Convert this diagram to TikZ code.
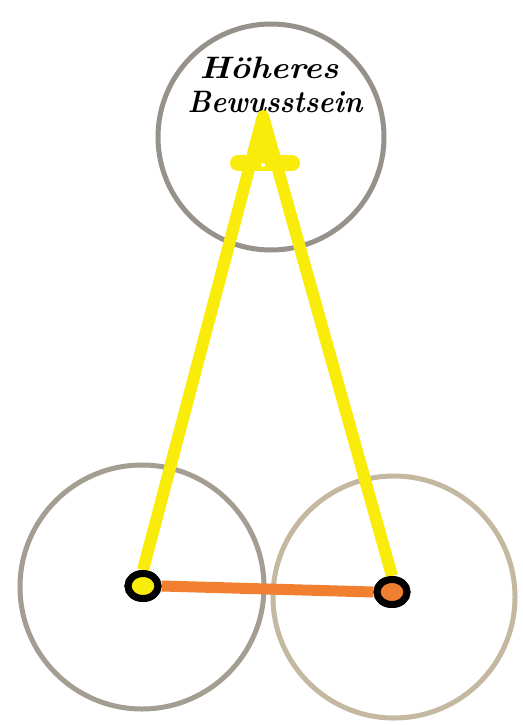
\documentclass[tikz,border=0pt]{standalone}
\usepackage{xcolor}
\usepackage{tikz}
\definecolor{pencil}{RGB}{150,145,138}
\definecolor{pencilbeige}{RGB}{196,184,160}
\definecolor{gelb}{RGB}{250,236,10}
\definecolor{orangestift}{RGB}{240,128,48}
\tikzset{
  kreis/.style={circle, draw=pencil, line width=5pt, inner sep=0pt},
  knoten/.style={ellipse, draw=black, line width=7pt, minimum width=30pt, minimum height=25pt, inner sep=0pt},
  schrift/.style={font=\fontsize{31}{33}\selectfont\bfseries\itshape, transform shape, inner sep=0pt}
}
\usetikzlibrary{shapes.geometric}
\begin{document}
\begin{tikzpicture}[x=1pt,y=-1pt]
\useasboundingbox (0,0) rectangle (522,725);
\fill[white] (0,0) rectangle (522,725);
\node[kreis, minimum size=226pt] (hoeher) at (271,137) {};
\node[kreis, draw=pencil!70!pencilbeige, minimum size=244pt] (linkskreis) at (142,587) {};
\node[kreis, draw=pencilbeige, minimum size=242pt] (rechtskreis) at (394,597) {};
\node[schrift, xscale=1.1] (wort1) at (269,68) {Höheres};
\node[schrift, xscale=0.92] (wort2) at (275,102) {Bewusstsein};
\coordinate (spitze) at (263,116);
\coordinate (balkenl) at (238,163);
\coordinate (balkenr) at (292,163);
\node[knoten, fill=gelb] (links) at (143,586) {};
\node[knoten, fill=orangestift] (rechts) at (392,592) {};
\draw[orangestift, line width=11pt] (links.east) -- (rechts.west);
\draw[gelb, line width=12pt, line join=round] (links.north) -- (spitze) -- (rechts.north);
\draw[gelb, line width=16pt, line cap=round] (balkenl) -- (balkenr);
\fill[gelb, rounded corners=3pt] (spitze) ++(0,-6) -- ++(-15,58) -- ++(30,0) -- cycle;
\fill[white] (263,165) circle (2pt);
\node[knoten, fill=gelb] at (links) {};
\node[knoten, fill=orangestift] at (rechts) {};
\end{tikzpicture}
\end{document}
